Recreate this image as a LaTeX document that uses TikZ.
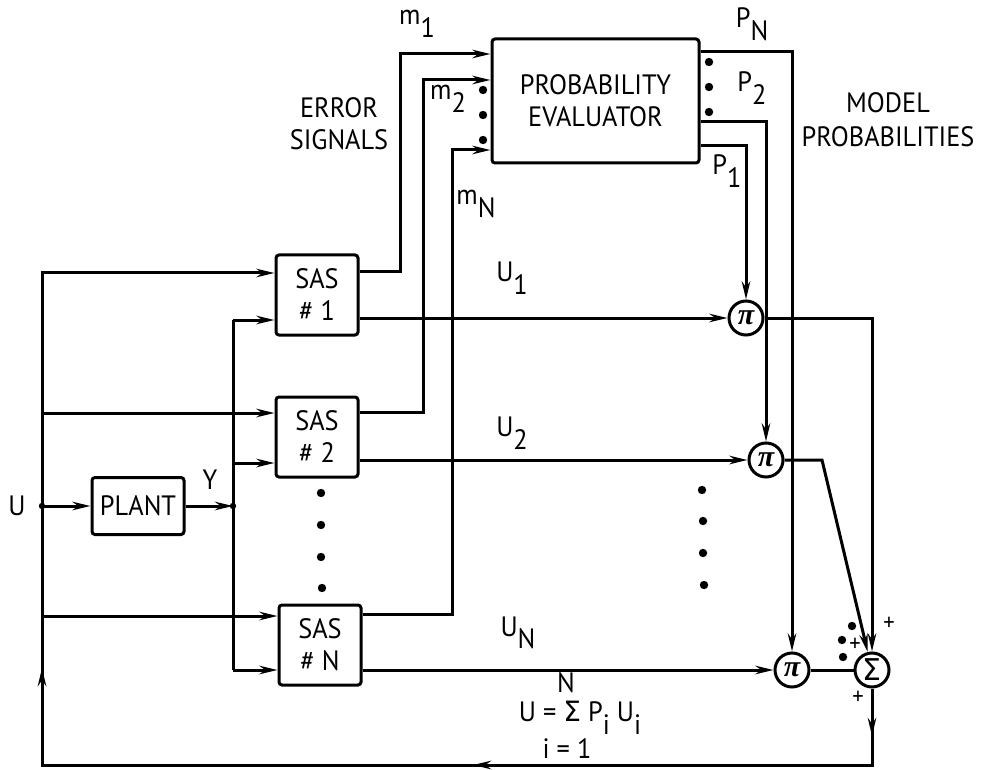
\documentclass[tikz,border=0pt]{standalone}
\usepackage{fontspec}
\setmainfont{PT Sans}[FakeStretch=0.94]
\newfontfamily\greekfont{DejaVu Sans}
\newfontfamily\pifont{Liberation Serif}
\usetikzlibrary{arrows.meta}
\newcommand\lowsub[2]{#1\raisebox{-0.45em}{#2}}
\begin{document}
\begin{tikzpicture}[x=0.5pt,y=-0.5pt,
  font=\fontsize{14}{16}\selectfont,
  ln/.style={line width=1.5pt},
  arr/.style={ln,-{Stealth[length=9pt,width=4.2pt]}},
  blk/.style={draw,line width=1.5pt,rounded corners=1.5pt,align=center,inner sep=0pt},
  opn/.style={draw,circle,line width=1.5pt,minimum size=17pt,inner sep=0pt,font=\fontsize{15}{15}\selectfont},
  bigdot/.style={circle,fill,inner sep=0pt,minimum size=4.2pt},
  jdot/.style={circle,fill,inner sep=0pt,minimum size=3.2pt},
  lbl/.style={inner sep=0pt,align=center},
  plus/.style={inner sep=0pt,font=\fontsize{12}{12}\selectfont}
]
\useasboundingbox (0,0) rectangle (985,770);

% blocks
\node[blk,minimum width=103.5pt,minimum height=62pt] (pe) at (595.5,101) {PROBABILITY\\EVALUATOR};
\node[blk,minimum width=41pt,minimum height=40pt] (s1) at (317,295) {SAS\\\# 1};
\node[blk,minimum width=41pt,minimum height=40pt] (s2) at (317,437) {SAS\\\# 2};
\node[blk,minimum width=41pt,minimum height=40pt] (sN) at (320,645) {SAS\\\# N};
\node[blk,minimum width=46pt,minimum height=28.5pt] (plant) at (138,506) {PLANT};
\node[opn] (p1) at (746,318) {\pifont\bfseries\itshape π};
\node[opn] (p2) at (766,460) {\pifont\bfseries\itshape π};
\node[opn] (pn) at (792,670) {\pifont\bfseries\itshape π};
\node[opn] (sig) at (872,670) {\greekfont Σ};

% coordinates
\coordinate (uj) at (42,506);
\coordinate (yj) at (233,506);
\coordinate (L1) at (42,273);
\coordinate (L2) at (42,413);
\coordinate (LN) at (42,616);
\coordinate (Lb) at (42,765);
\coordinate (Y1) at (233,320);
\coordinate (Y2) at (233,463);
\coordinate (YN) at (233,670);
\coordinate (m1b) at (400,272);
\coordinate (m1t) at (400,54);
\coordinate (m2b) at (423,412);
\coordinate (m2t) at (423,80);
\coordinate (mNb) at (452,614);
\coordinate (mNt) at (452,150);
\coordinate (pNt) at (792,52);
\coordinate (p2t) at (766,122);
\coordinate (p1t) at (746,146);
\coordinate (q2) at (822,460);
\coordinate (fa1) at (872,736);
\coordinate (fa2) at (473,765);
\coordinate (fa3) at (42,668);

% error signals
\draw[arr] (s1.east |- m1b) -- (m1b) -- (m1t) -- (pe.west |- m1t);
\draw[arr] (s2.east |- m2b) -- (m2b) -- (m2t) -- (pe.west |- m2t);
\draw[arr] (sN.east |- mNb) -- (mNb) -- (mNt) -- (pe.west |- mNt);

% model probabilities
\draw[arr] (pe.east |- pNt) -- (pNt) -- (pn);
\draw[arr] (pe.east |- p2t) -- (p2t) -- (p2);
\draw[arr] (pe.east |- p1t) -- (p1t) -- (p1);

% SAS outputs
\draw[arr] (s1.east |- p1) -- (p1);
\draw[arr] (s2.east |- p2) -- (p2);
\draw[arr] (sN.east |- pn) -- (pn);

% products to sum
\draw[arr] (p1) -- (p1 -| sig) -- (sig);
\draw[arr] (p2) -- (q2) -- (sig);
\draw[ln] (pn) -- (sig);

% feedback
\draw[arr] (sig) -- (sig |- Lb) -- (Lb) -- (L1) -- (s1.west |- L1);
\draw[arr] (sig) -- (fa1);
\draw[arr] (sig |- Lb) -- (fa2);
\draw[arr] (Lb) -- (fa3);
\draw[arr] (L2) -- (s2.west |- L2);
\draw[arr] (LN) -- (sN.west |- LN);

% plant
\draw[arr] (uj) -- (plant);
\draw[arr] (plant) -- (yj);
\draw[ln] (Y1) -- (YN);
\draw[arr] (Y1) -- (s1.west |- Y1);
\draw[arr] (Y2) -- (s2.west |- Y2);
\draw[arr] (YN) -- (sN.west |- YN);
\node[jdot] (ujd) at (uj) {};
\node[jdot] (yjd) at (yj) {};

% dots
\node[bigdot] (d1) at (483,90) {};
\node[bigdot] (d2) at (483,115) {};
\node[bigdot] (d3) at (483,140) {};
\node[bigdot] (d4) at (709,62) {};
\node[bigdot] (d5) at (709,87) {};
\node[bigdot] (d6) at (709,112) {};
\node[bigdot] (d7) at (321,493) {};
\node[bigdot] (d8) at (321,525) {};
\node[bigdot] (d9) at (321,557) {};
\node[bigdot] (d10) at (322,588) {};
\node[bigdot] (d11) at (702,490) {};
\node[bigdot] (d12) at (703,521) {};
\node[bigdot] (d13) at (703,553) {};
\node[bigdot] (d14) at (704,585) {};
\node[bigdot] (d15) at (852,626) {};
\node[bigdot] (d16) at (842,640) {};
\node[bigdot] (d17) at (843,657) {};

% plus signs
\node[plus] (pl1) at (889,624) {+};
\node[plus] (pl2) at (855,645) {+};
\node[plus] (pl3) at (858,698) {+};

% labels
\node[lbl] (err) at (339,124) {ERROR\\SIGNALS};
\node[lbl] (mod) at (888,120) {MODEL\\[1pt]PROBABILITIES};
\node[lbl] (lm1) at (417,24) {\lowsub{m}{1}};
\node[lbl] (lm2) at (448,99) {\lowsub{m}{2}};
\node[lbl] (lmN) at (476,204) {\lowsub{m}{N}};
\node[lbl] (lPN) at (752,24) {\lowsub{P}{N}};
\node[lbl] (lP2) at (752,88) {\lowsub{P}{2}};
\node[lbl] (lP1) at (727,171) {\lowsub{P}{1}};
\node[lbl] (lU1) at (512,278) {\lowsub{U}{1}};
\node[lbl] (lU2) at (512,433) {\lowsub{U}{2}};
\node[lbl] (lUN) at (518,633) {\lowsub{U}{N}};
\node[lbl] (lU) at (17,506) {U};
\node[lbl] (lY) at (210,480) {Y};
\node[lbl] (fN) at (566,683) {N};
\node[lbl] (fmain) at (580,718) {U = {\greekfont Σ} \lowsub{P}{i} \lowsub{U}{i}};
\node[lbl] (fi) at (567,749) {i = 1};
\end{tikzpicture}
\end{document}
